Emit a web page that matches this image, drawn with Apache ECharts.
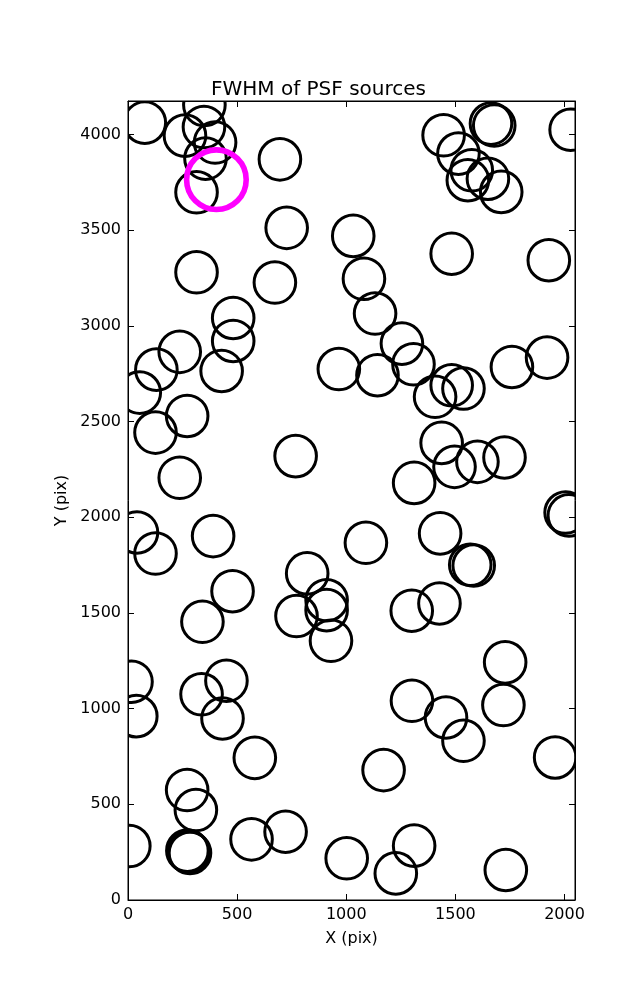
<!DOCTYPE html>
<html>
<head>
<meta charset="utf-8">
<script src="https://cdn.jsdelivr.net/npm/echarts@6/dist/echarts.min.js"></script>
<style>
html,body{margin:0;padding:0;background:#fff;}
#chart{width:637px;height:1000px;}
</style>
</head>
<body>
<div id="chart"></div>
<script>
// PSF source positions (detector pixels)
const srcX = [77,261,350,348,399,355,314,696,727,314,673,482,482,237,130,429,966,54,271,126,237,768,41,126,390,479,341,821,910,910,772,930,16,38,337,451,433,581,271,311,272,278,284,6,566,722,1002,1728,1720,1301,1457,1537,1957,1171,1311,1227,1731,1143,1308,1255,1407,1483,1537,1759,1920,1437,1311,1496,1601,1725,2005,2020,1090,1430,1568,1584,1300,1427,1446,1663,1678,2028,1514,1575,1557,1649,1710,1032,1483,1928,1081,1132];
const srcY = [4063,3995,4155,4040,3959,3875,3699,3871,3513,3281,3227,3042,2922,2865,2772,2765,2775,2652,2530,2443,2207,2320,1921,1811,1902,1614,1454,1707,1567,1515,1484,1355,1141,961,1075,1146,949,743,575,470,258,252,246,282,317,357,218,1242,1019,1041,954,832,745,679,284,139,157,2743,2800,2908,2630,2690,2673,2786,2835,2389,2180,2264,2290,2313,2025,2010,1867,1916,1752,1748,1512,1550,3997,4058,4048,4026,3901,3814,3762,3770,3701,3471,3378,3344,3247,3065];
// highlighted source
const hiX = [405];
const hiY = [3765];
const xTicks = [0,500,1000,1500,2000];
const yTicks = [0,500,1000,1500,2000,2500,3000,3500,4000];
const xMax = 2048, yMax = 4176;

const blackData = srcX.map((x,i)=>[x, srcY[i]]);
const hiData = hiX.map((x,i)=>[x, hiY[i]]);

function circleRenderer(r, color, lw){
  return function(params, api){
    const p = api.coord([api.value(0), api.value(1)]);
    const cs = params.coordSys;
    return {
      type:'circle',
      shape:{cx:p[0], cy:p[1], r:r},
      style:{fill:null, stroke:color, lineWidth:lw},
      clipPath:{type:'rect', shape:{x:cs.x, y:cs.y, width:cs.width, height:cs.height}}
    };
  };
}

const font = 'DejaVu Sans';
const chart = echarts.init(document.getElementById('chart'));
const baseAxisLabel = {color:'#000', fontFamily:font, fontSize:16, formatter:(v)=>String(v), showMaxLabel:false};
const lineCfg = {show:true, onZero:false, lineStyle:{color:'#000', width:1}};
const tickCfg = {show:true, inside:true, length:6, lineStyle:{color:'#000'}};
chart.setOption({
  animation:false,
  backgroundColor:'#fff',
  title:{text:'FWHM of PSF sources', left:'center', top:75, textStyle:{fontFamily:font, fontSize:20, fontWeight:'normal', color:'#000'}},
  grid:{left:128, right:62, top:101, bottom:100, show:true, borderColor:'#000', borderWidth:1, backgroundColor:'transparent'},
  xAxis:[
    {type:'value', min:0, max:xMax, interval:500, position:'bottom',
     name:'X (pix)', nameLocation:'middle', nameGap:31, nameTextStyle:{fontFamily:font, fontSize:16, color:'#000'},
     axisLine:lineCfg, axisTick:tickCfg,
     axisLabel:Object.assign({margin:7}, baseAxisLabel),
     splitLine:{show:false}},
    {type:'value', min:0, max:xMax, interval:500, position:'top',
     axisLine:lineCfg, axisTick:tickCfg,
     axisLabel:{show:false}, splitLine:{show:false}}
  ],
  yAxis:[
    {type:'value', min:0, max:yMax, interval:500, position:'left',
     name:'Y (pix)', nameLocation:'middle', nameGap:58, nameRotate:90, nameTextStyle:{fontFamily:font, fontSize:16, color:'#000'},
     axisLine:lineCfg, axisTick:tickCfg,
     axisLabel:Object.assign({margin:7}, baseAxisLabel),
     splitLine:{show:false}},
    {type:'value', min:0, max:yMax, interval:500, position:'right',
     axisLine:lineCfg, axisTick:tickCfg,
     axisLabel:{show:false}, splitLine:{show:false}}
  ],
  series:[
    {type:'custom', name:'sources', data:blackData, renderItem:circleRenderer(20.8,'#000',3), clip:true, z:2},
    {type:'custom', name:'selected', data:hiData, renderItem:circleRenderer(29.8,'#ff00ff',5.6), clip:true, z:3}
  ]
});
</script>
</body>
</html>
